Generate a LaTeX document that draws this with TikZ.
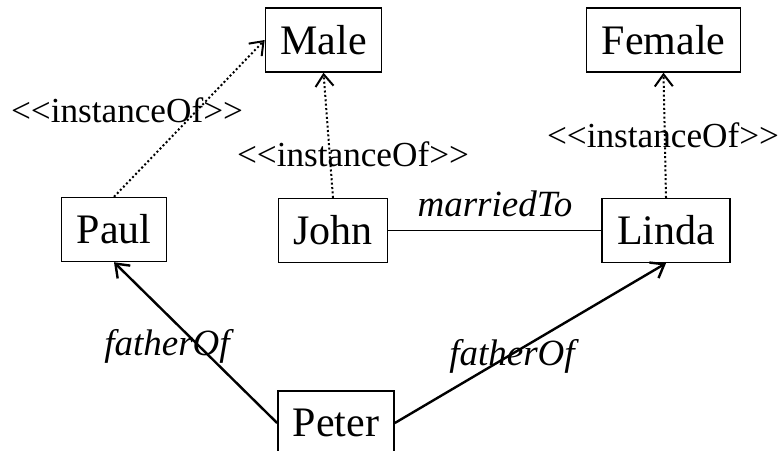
\documentclass[tikz,border=0pt]{standalone}
\usepackage{fontspec}
\setmainfont{Liberation Serif}
\usetikzlibrary{arrows.meta}
\newcommand\stereotype[1]{<\kern0pt<#1>\kern0pt>}

\begin{document}
\begin{tikzpicture}[x=0.5pt, y=-0.5pt,
    cls/.style={draw, line width=0.7pt, inner xsep=7.5pt, minimum height=32pt,
        font=\fontsize{21}{24}\selectfont},
    inst/.style={line width=1pt, dash pattern=on 1pt off 1.2pt,
        -{Straight Barb[length=6pt, width=9pt, line width=1pt]}},
    rel/.style={line width=1.2pt, -{Straight Barb[length=6pt, width=9pt]}},
    lbl/.style={inner sep=0pt, anchor=base, font=\fontsize{17.6}{20}\selectfont},
    ilbl/.style={lbl, font=\fontsize{18.5}{22}\selectfont\itshape}]
    \useasboundingbox (0,0) rectangle (779,450);

    % Classes
    \node[cls] (male) at (323.5,40) {Male};
    \node[cls] (female) at (663.5,40) {Female};

    % Instances
    \node[cls] (paul) at (114,229.5) {Paul};
    \node[cls] (john) at (333,230.5) {John};
    \node[cls] (linda) at (666,230.5) {Linda};
    \node[cls] (peter) at (336,423) {Peter};

    % instanceOf links
    \draw[inst] (paul.north) -- (male.west);
    \draw[inst] (john.north) -- (male.south);
    \draw[inst] (linda.north) -- (female.south);
    \node[lbl] (instpaul) at (127,122) {\stereotype{instanceOf}};
    \node[lbl] (instjohn) at (353,166) {\stereotype{instanceOf}};
    \node[lbl] (instlinda) at (663,147) {\stereotype{instanceOf}};

    % Relations
    \draw[line width=0.6pt] (john.east) -- (linda.west);
    \node[ilbl] (married) at (495,216) {marriedTo};
    \draw[rel] (peter.west) -- (paul.south);
    \draw[rel] (peter.east) -- (linda.south);
    \node[ilbl] (fatherpaul) at (167,355) {fatherOf};
    \node[ilbl] (fatherlinda) at (512,365) {fatherOf};
\end{tikzpicture}
\end{document}
